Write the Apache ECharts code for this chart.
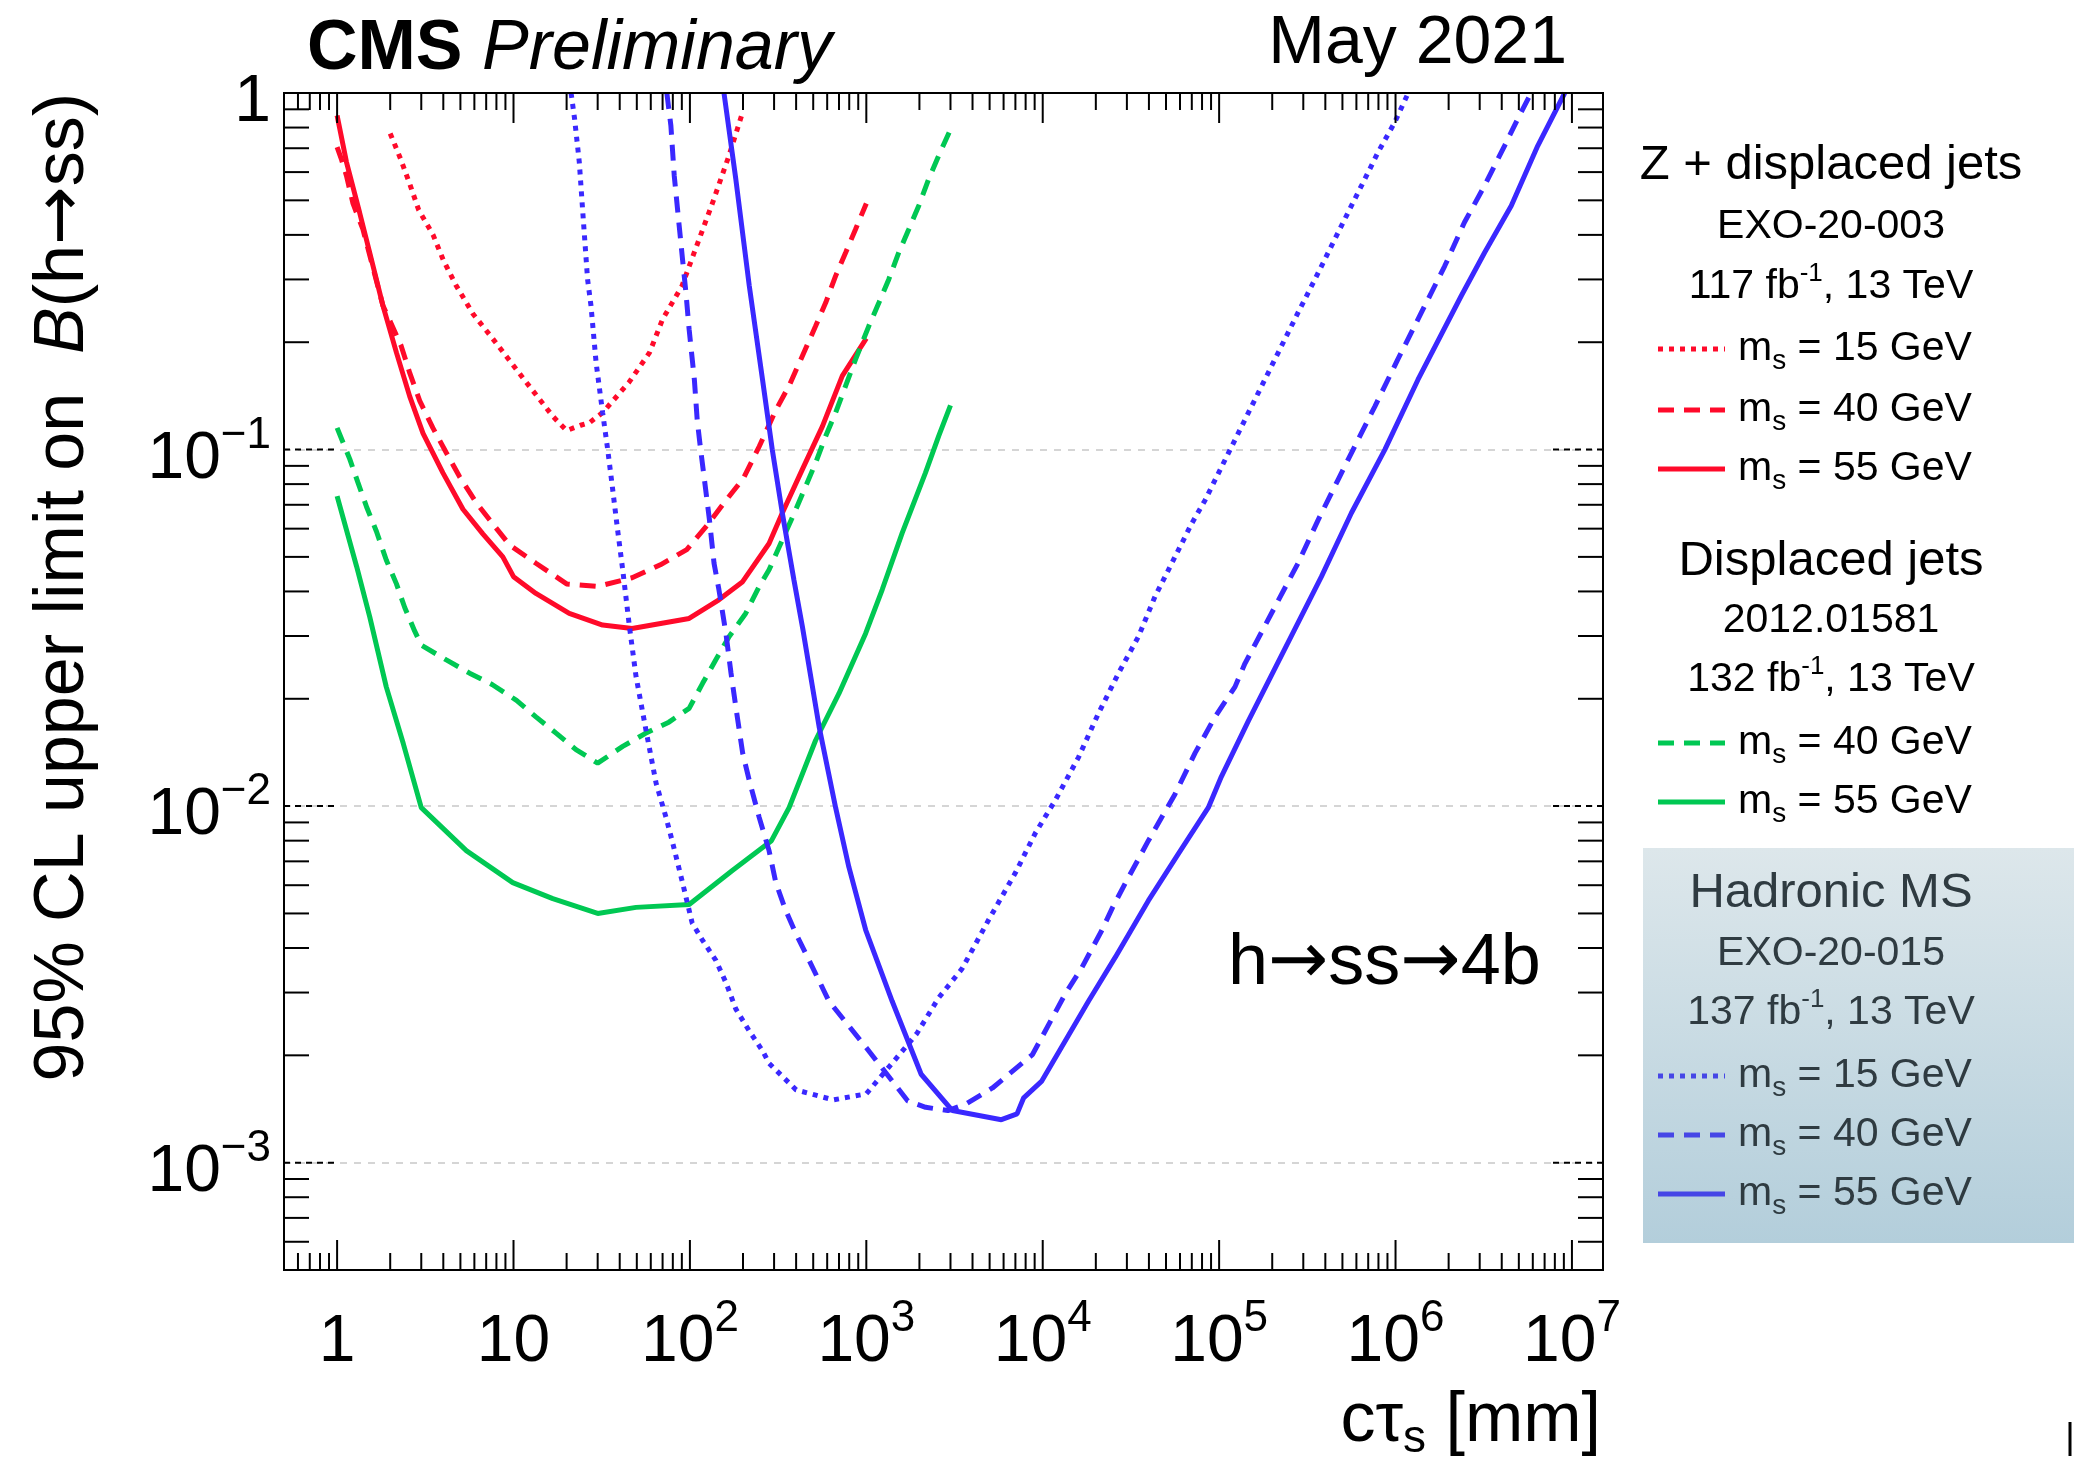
<!DOCTYPE html>
<html>
<head>
<meta charset="utf-8">
<script src="https://cdn.jsdelivr.net/npm/echarts@6/dist/echarts.min.js"></script>
<style>
html, body { margin: 0; padding: 0; background: #fff; }
#main { width: 2074px; height: 1464px; }
</style>
</head>
<body>
<div id="main"></div>
<script>
// h -> ss -> 4b limits, values as [c tau (mm), 95% CL limit]
var zdj15 = [[2,0.77],[2.3,0.65],[2.6,0.55],[2.9,0.47],[3.5,0.40],[4,0.34],[4.7,0.29],[5.9,0.24],[7.6,0.205],[9.9,0.173],[12.9,0.146],[16.7,0.124],[20,0.113],[24,0.117],[27,0.119],[32,0.127],[45,0.154],[59,0.187],[70,0.232],[90,0.287],[113,0.39],[134,0.49],[167,0.67],[200,0.89]];
var zdj40 = [[1,0.705],[1.06,0.65],[1.13,0.586],[1.23,0.49],[1.4,0.415],[1.82,0.253],[2.03,0.225],[2.31,0.195],[2.58,0.164],[2.94,0.137],[3.49,0.115],[4.16,0.098],[4.94,0.084],[6.15,0.071],[7.6,0.062],[9.5,0.054],[13.4,0.048],[17.4,0.044],[20,0.042],[30,0.0413],[47,0.0437],[68,0.0475],[96,0.0524],[126,0.0615],[153,0.070],[201,0.083],[247,0.102],[307,0.129],[365,0.151],[434,0.183],[516,0.222],[588,0.258],[670,0.307],[764,0.357],[869,0.415],[1000,0.49]];
var zdj55 = [[1,0.865],[1.13,0.64],[1.34,0.463],[1.53,0.357],[1.82,0.253],[2.17,0.187],[2.58,0.141],[3.07,0.111],[3.98,0.086],[5.17,0.068],[6.7,0.058],[8.7,0.050],[10,0.044],[13.4,0.0395],[20.7,0.0347],[32,0.0322],[47,0.0315],[99,0.0336],[146,0.0379],[199,0.0426],[281,0.0545],[334,0.0664],[434,0.088],[563,0.116],[731,0.161],[1000,0.205]];
var dj40 = [[1,0.115],[1.18,0.094],[1.31,0.081],[1.47,0.069],[1.67,0.059],[1.9,0.049],[2.17,0.042],[2.42,0.036],[2.75,0.031],[3,0.0283],[4.16,0.0257],[5.64,0.0236],[7.6,0.0219],[10.4,0.0198],[13.4,0.0178],[17.5,0.016],[22.6,0.0144],[30,0.0132],[41.6,0.0147],[56,0.016],[76,0.0172],[99,0.0188],[118,0.0221],[140,0.0257],[167,0.0299],[207,0.0347],[247,0.0413],[281,0.046],[334,0.0558],[398,0.0678],[453,0.0788],[516,0.0918],[588,0.109],[670,0.127],[764,0.151],[869,0.179],[1033,0.222],[1178,0.258],[1340,0.30],[1528,0.357],[1741,0.415],[1983,0.483],[2258,0.574],[2571,0.667],[3000,0.79]];
var dj55 = [[1,0.074],[1.29,0.047],[1.53,0.034],[1.9,0.0216],[2.37,0.015],[3,0.0099],[5.4,0.0075],[9.9,0.0061],[16.7,0.0055],[30,0.0050],[49.5,0.0052],[99,0.0053],[174,0.0066],[290,0.0080],[365,0.0099],[516,0.0153],[700,0.0207],[991,0.0305],[1231,0.0405],[1596,0.0583],[2163,0.086],[2571,0.109],[3000,0.133]];
var ms15 = [[21.2,1.0],[22.2,0.846],[23.6,0.64],[24.7,0.463],[26.3,0.30],[27.5,0.253],[29.4,0.175],[32,0.127],[34.2,0.10],[36.5,0.0772],[38.9,0.0596],[41.6,0.046],[45.4,0.0319],[49.5,0.0231],[56.4,0.0163],[64.3,0.0116],[73.2,0.0093],[79.8,0.0079],[90.8,0.0061],[103,0.0047],[118,0.0042],[140,0.0037],[160,0.0032],[182,0.0027],[217,0.00234],[258,0.00206],[281,0.0019],[400,0.0016],[650,0.0015],[1000,0.00156],[1528,0.0020],[1931,0.0023],[2571,0.0029],[3490,0.0035],[4940,0.0048],[7000,0.0065],[9080,0.0084],[11800,0.0104],[15950,0.0137],[20700,0.0182],[26900,0.0236],[34900,0.0299],[43300,0.0387],[56200,0.050],[69900,0.062],[83100,0.072],[2.8e5,0.242],[3.49e5,0.30],[4.34e5,0.373],[5.39e5,0.463],[6.7e5,0.574],[7.96e5,0.682],[9.9e5,0.828],[1.18e6,1.0]];
var ms40 = [[74,1.0],[78,0.81],[81.5,0.586],[86.9,0.425],[90.8,0.342],[94.9,0.276],[99,0.217],[106,0.157],[110,0.121],[115,0.10],[121,0.082],[129,0.0636],[137,0.048],[146,0.0405],[160,0.0305],[171,0.0236],[182,0.019],[199,0.0141],[217,0.0118],[247,0.0093],[281,0.0075],[307,0.0061],[349,0.0051],[398,0.0044],[473,0.0037],[563,0.0031],[613,0.00284],[1000,0.0021],[1718,0.00149],[2170,0.00143],[2900,0.0014],[3660,0.00146],[5190,0.00162],[8750,0.00201],[13400,0.00297],[16700,0.00353],[21600,0.00448],[24900,0.0052],[29300,0.00606],[39700,0.008],[56200,0.0108],[73100,0.0141],[94800,0.0178],[1.23e5,0.0216],[1.4e5,0.0251],[2.8e5,0.048],[3.65e5,0.0636],[4.73e5,0.0824],[5.75e5,0.10],[7.63e5,0.132],[1.03e6,0.179],[1.4e6,0.242],[1.9e6,0.327],[2.46e6,0.434],[3.2e6,0.55],[4.15e6,0.711],[4.93e6,0.846],[5.87e6,1.0]];
var ms55 = [[156,1.0],[182,0.574],[217,0.288],[258,0.157],[293,0.10],[334,0.0664],[389,0.043],[434,0.0319],[540,0.0167],[670,0.0099],[796,0.00675],[991,0.0045],[1400,0.00284],[2046,0.00177],[3076,0.0014],[5830,0.00132],[7150,0.00137],[7800,0.00152],[9840,0.00169],[18200,0.00284],[25800,0.00377],[39700,0.00543],[58700,0.00735],[86800,0.0099],[1.03e5,0.0121],[1.47e5,0.0174],[3.8e5,0.044],[5.62e5,0.0664],[8.7e5,0.10],[1.34e6,0.157],[2.36e6,0.27],[3.2e6,0.357],[4.53e6,0.483],[6.4e6,0.711],[9.1e6,1.0]];

// axis labels
var xLabelValues = [1, 10, 100, 1e3, 1e4, 1e5, 1e6, 1e7];
var xLabelTexts = ['1', '10', '10{sup|2}', '10{sup|3}', '10{sup|4}', '10{sup|5}', '10{sup|6}', '10{sup|7}'];
var yLabelValues = [0.001, 0.01, 0.1, 1];
var yLabelTexts = ['10{sup|\u22123}', '10{sup|\u22122}', '10{sup|\u22121}', '1'];

var X_MIN = 0.5, X_MAX = 1.5e7, Y_MIN = 5e-4, Y_MAX = 1;
var FONT = 'Liberation Sans, Arial, Helvetica, sans-serif';
var ARROW_FONT = 'DejaVu Sans, sans-serif';
var RED = '#ff0a2a', GREEN = '#00c853', BLUE = '#3a28ff';
var DOT = [5, 6], DASH = [16, 10];

function sameValue(a, b) { return Math.abs(a - b) <= Math.abs(b) * 1e-6; }
function isDecade(v) { var l = Math.log10(v); return Math.abs(l - Math.round(l)) < 1e-6; }
function pickLabel(values, texts, v) {
    for (var i = 0; i < values.length; i++) {
        if (sameValue(v, values[i])) return texts[i];
    }
    return '';
}

// 1..9 x 10^n ticks inside the axis range (edges excluded, the frame covers them)
var xTicks = [], yTicks = [];
for (var e = -1; e <= 7; e++) {
    for (var m = 1; m <= 9; m++) {
        var v = m * Math.pow(10, e);
        if (v > X_MIN * 1.0001 && v < X_MAX * 0.9999) xTicks.push([v, 1]);
    }
}
for (var e2 = -4; e2 <= 0; e2++) {
    for (var m2 = 1; m2 <= 9; m2++) {
        var w = m2 * Math.pow(10, e2);
        if (w > Y_MIN * 1.0001 && w < Y_MAX * 0.9999) yTicks.push([1, w]);
    }
}

function lineSeries(name, data, color, dash) {
    return {
        name: name,
        type: 'line',
        data: data,
        symbol: 'none',
        clip: true,
        lineStyle: { color: color, width: 5, type: dash ? dash : 'solid', cap: 'butt' },
        z: 3
    };
}

var myChart = echarts.init(document.getElementById('main'), null, { renderer: 'canvas' });

var labelRich = {
    sup: { fontSize: 44, lineHeight: 44, verticalAlign: 'top', fontFamily: FONT, color: '#000' }
};

function legendLine(x, y, color, dash) {
    return {
        type: 'line',
        shape: { x1: 1658, y1: y, x2: 1725, y2: y },
        style: { stroke: color, lineWidth: 5, lineDash: dash || null }
    };
}
function centerText(y, txt, size, color) {
    return {
        type: 'text', x: 1831, y: y,
        style: {
            text: txt, fontSize: size, fontFamily: FONT, fill: color || '#000',
            align: 'center', verticalAlign: 'middle', lineHeight: 52,
            rich: {
                sup: { fontSize: 26, lineHeight: 26, verticalAlign: 'top', fontFamily: FONT, fill: color || '#000' }
            }
        }
    };
}
function entryText(y, txt, color) {
    return {
        type: 'text', x: 1738, y: y,
        style: {
            text: txt, fontSize: 41, fontFamily: FONT, fill: color || '#000',
            align: 'left', verticalAlign: 'middle', lineHeight: 52,
            rich: {
                sub: { fontSize: 28, lineHeight: 28, verticalAlign: 'bottom', fontFamily: FONT, fill: color || '#000' }
            }
        }
    };
}

var BOX_TEXT = '#2f3b41', BOX_BLUE = '#4646e6';

var option = {
    animation: false,
    backgroundColor: '#fff',
    grid: {
        left: 284, top: 93, right: 471, bottom: 194,
        show: false
    },
    xAxis: {
        type: 'log', logBase: 10, min: X_MIN, max: X_MAX,
        axisLine: { show: false },
        axisTick: { show: false },
        splitLine: { show: false },
        minorTick: { show: false },
        axisLabel: {
            show: true, margin: 27, color: '#000',
            fontSize: 66, fontFamily: FONT, lineHeight: 92,
            showMinLabel: false, showMaxLabel: false,
            formatter: function (v) { return pickLabel(xLabelValues, xLabelTexts, v); },
            rich: labelRich
        }
    },
    yAxis: {
        type: 'log', logBase: 10, min: Y_MIN, max: Y_MAX,
        axisLine: { show: false },
        axisTick: { show: false },
        minorTick: { show: false },
        splitLine: {
            show: true, showMinLine: false, showMaxLine: false,
            lineStyle: { color: '#c8c8c8', width: 1.5, type: [7, 7] }
        },
        axisLabel: {
            show: true, margin: 13, color: '#000',
            fontSize: 66, fontFamily: FONT, lineHeight: 92,
            padding: [20, 0, 0, 0],
            showMinLabel: false,
            formatter: function (v) { return pickLabel(yLabelValues, yLabelTexts, v); },
            rich: labelRich
        }
    },
    series: [
        lineSeries('Z+DJ 15', zdj15, RED, DOT),
        lineSeries('Z+DJ 40', zdj40, RED, DASH),
        lineSeries('Z+DJ 55', zdj55, RED),
        lineSeries('DJ 40', dj40, GREEN, DASH),
        lineSeries('DJ 55', dj55, GREEN),
        lineSeries('MS 15', ms15, BLUE, DOT),
        lineSeries('MS 40', ms40, BLUE, DASH),
        lineSeries('MS 55', ms55, BLUE),
        {
            // x ticks on bottom and top edges
            type: 'custom', silent: true, z: 5,
            data: xTicks,
            renderItem: function (params, api) {
                var v = api.value(0);
                var cs = params.coordSys;
                var x = api.coord([v, 1])[0];
                var len = isDecade(v) ? 30 : 17;
                var b = cs.y + cs.height, t = cs.y;
                return {
                    type: 'group',
                    children: [
                        { type: 'line', shape: { x1: x, y1: b, x2: x, y2: b - len }, style: { stroke: '#000', lineWidth: 2 } },
                        { type: 'line', shape: { x1: x, y1: t, x2: x, y2: t + len }, style: { stroke: '#000', lineWidth: 2 } }
                    ]
                };
            }
        },
        {
            // y ticks on left and right edges; decades drawn dashed like the grid
            type: 'custom', silent: true, z: 5,
            data: yTicks,
            renderItem: function (params, api) {
                var v = api.value(1);
                var cs = params.coordSys;
                var y = api.coord([1, v])[1];
                var major = isDecade(v);
                var len = major ? 50 : 25;
                var l = cs.x, r = cs.x + cs.width;
                var st = { stroke: '#000', lineWidth: 2, lineDash: major ? [6, 5] : null };
                return {
                    type: 'group',
                    children: [
                        { type: 'line', shape: { x1: l, y1: y, x2: l + len, y2: y }, style: st },
                        { type: 'line', shape: { x1: r, y1: y, x2: r - len, y2: y }, style: st }
                    ]
                };
            }
        }
    ],
    graphic: [
        {
            // plot frame
            type: 'rect', z: 100, silent: true,
            shape: { x: 284, y: 93, width: 1319, height: 1177 },
            style: { fill: null, stroke: '#000', lineWidth: 2 }
        },
        {
            type: 'text', x: 307, y: 50,
            style: {
                text: '{b|CMS} {i|Preliminary}', fontSize: 70, fontFamily: FONT, fill: '#000',
                align: 'left', verticalAlign: 'middle',
                rich: {
                    b: { fontSize: 70, fontWeight: 'bold', fontFamily: FONT },
                    i: { fontSize: 70, fontStyle: 'italic', fontFamily: FONT }
                }
            }
        },
        {
            type: 'text', x: 1567, y: 44,
            style: { text: 'May 2021', fontSize: 68, fontFamily: FONT, fill: '#000', align: 'right', verticalAlign: 'middle' }
        },
        {
            type: 'text', x: 1228, y: 964,
            style: {
                text: 'h{a|\u2192}ss{a|\u2192}4b', fontSize: 72, fontFamily: FONT, fill: '#000', align: 'left', verticalAlign: 'middle',
                rich: { a: { fontSize: 72, fontFamily: ARROW_FONT } }
            }
        },
        {
            type: 'text', x: 64, y: 93, rotation: Math.PI / 2,
            style: {
                text: '95% CL upper limit on  {i|B}(h{a|\u2192}ss)', fontSize: 70, fontFamily: FONT, fill: '#000',
                align: 'right', verticalAlign: 'middle',
                rich: {
                    i: { fontSize: 70, fontStyle: 'italic', fontFamily: FONT },
                    a: { fontSize: 70, fontFamily: ARROW_FONT }
                }
            }
        },
        {
            type: 'text', x: 1601, y: 1422,
            style: {
                text: 'c\u03c4{sub|s} [mm]', fontSize: 70, fontFamily: FONT, fill: '#000',
                align: 'right', verticalAlign: 'middle', lineHeight: 80,
                rich: { sub: { fontSize: 46, lineHeight: 46, verticalAlign: 'bottom', fontFamily: FONT } }
            }
        },
        // legend: Z + displaced jets
        centerText(165, 'Z + displaced jets', 49),
        centerText(227, 'EXO-20-003', 41),
        centerText(287, '117 fb{sup|-1}, 13 TeV', 41),
        legendLine(1658, 349, RED, DOT),
        entryText(349, 'm{sub|s} = 15 GeV'),
        legendLine(1658, 410, RED, DASH),
        entryText(410, 'm{sub|s} = 40 GeV'),
        legendLine(1658, 469, RED),
        entryText(469, 'm{sub|s} = 55 GeV'),
        // legend: Displaced jets
        centerText(561, 'Displaced jets', 49),
        centerText(621, '2012.01581', 41),
        centerText(680, '132 fb{sup|-1}, 13 TeV', 41),
        legendLine(1658, 743, GREEN, DASH),
        entryText(743, 'm{sub|s} = 40 GeV'),
        legendLine(1658, 802, GREEN),
        entryText(802, 'm{sub|s} = 55 GeV'),
        // legend: Hadronic MS (shaded box)
        {
            type: 'rect', shape: { x: 1643, y: 848, width: 431, height: 395 },
            style: {
                fill: { type: 'linear', x: 0, y: 0, x2: 0, y2: 1,
                        colorStops: [{ offset: 0, color: '#dde7eb' }, { offset: 1, color: '#b3cedb' }] }
            }
        },
        centerText(893, 'Hadronic MS', 49, BOX_TEXT),
        centerText(954, 'EXO-20-015', 41, BOX_TEXT),
        centerText(1013, '137 fb{sup|-1}, 13 TeV', 41, BOX_TEXT),
        legendLine(1658, 1076, BOX_BLUE, DOT),
        entryText(1076, 'm{sub|s} = 15 GeV', BOX_TEXT),
        legendLine(1658, 1135, BOX_BLUE, DASH),
        entryText(1135, 'm{sub|s} = 40 GeV', BOX_TEXT),
        legendLine(1658, 1194, BOX_BLUE),
        entryText(1194, 'm{sub|s} = 55 GeV', BOX_TEXT),
        {
            type: 'line', shape: { x1: 2070, y1: 1422, x2: 2070, y2: 1456 },
            style: { stroke: '#000', lineWidth: 3 }
        }
    ]
};

myChart.setOption(option);
</script>
</body>
</html>
